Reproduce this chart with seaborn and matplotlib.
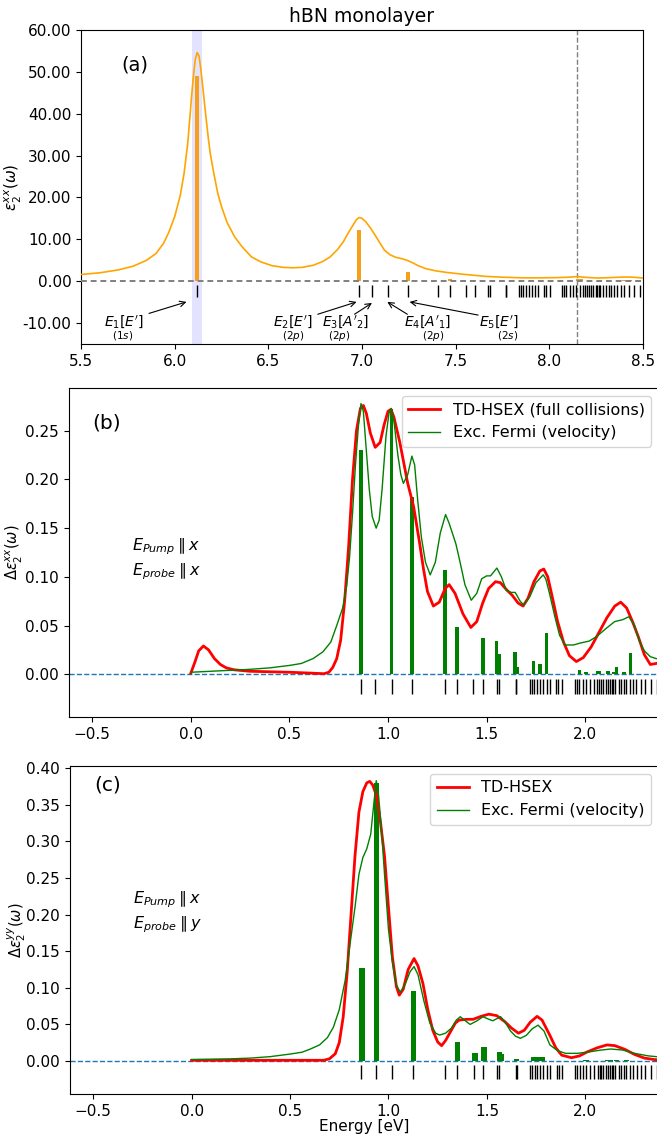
import numpy as np
import pandas as pd
import matplotlib
matplotlib.use("Agg")
import matplotlib.pyplot as plt
import seaborn as sns

# ---------------- data ----------------
# panel (a): absorption spectrum of hBN monolayer
a_energy = [5.50, 5.60, 5.70, 5.78, 5.85, 5.90, 5.94, 5.97, 6.00, 6.03, 6.05, 6.07, 6.08, 6.09,
            6.10, 6.11, 6.12, 6.13, 6.14, 6.15, 6.165, 6.18, 6.19, 6.21, 6.23, 6.25, 6.28, 6.32,
            6.36, 6.41, 6.46, 6.52, 6.58, 6.63, 6.68, 6.74, 6.79, 6.83, 6.87, 6.90, 6.93, 6.955,
            6.97, 6.985, 7.00, 7.02, 7.045, 7.07, 7.10, 7.12, 7.15, 7.18, 7.21, 7.24, 7.27, 7.30,
            7.34, 7.39, 7.45, 7.53, 7.60, 7.66, 7.75, 7.86, 7.95, 8.04, 8.10, 8.15, 8.20, 8.26,
            8.32, 8.40, 8.45, 8.50]
a_eps2 = [1.6, 2.0, 2.7, 3.6, 5.0, 6.6, 9.0, 11.8, 15.4, 20.5, 25.7, 33.0, 38.5, 44.0,
          49.0, 53.0, 54.6, 53.8, 50.5, 46.4, 40.0, 34.0, 30.5, 25.5, 21.0, 17.8, 14.0, 10.6,
          8.2, 5.8, 4.6, 3.7, 3.3, 3.2, 3.3, 3.8, 4.7, 5.8, 7.6, 9.4, 11.8, 13.6,
          14.7, 15.2, 15.0, 14.2, 12.7, 11.0, 8.8, 7.4, 6.3, 5.7, 5.4, 5.0, 4.4, 3.7,
          3.0, 2.5, 2.1, 1.7, 1.4, 1.15, 0.95, 0.8, 0.8, 0.85, 0.95, 1.1, 0.9, 0.75,
          0.85, 1.0, 0.95, 0.75]
a_bar_energy = [6.12, 6.985, 7.245, 7.47, 7.60, 8.15, 8.17, 8.40, 8.43]
a_bar_height = [49.0, 12.2, 2.1, 0.45, 0.2, 0.5, 0.5, 0.2, 0.25]
E1 = 6.12
fermi_level = 8.15

# exciton energies relative to E1 (eV)
exc_rel = [0.863, 0.935, 1.018, 1.123, 1.288, 1.350, 1.433, 1.482, 1.552, 1.563, 1.647, 1.651,
           1.719, 1.728, 1.742, 1.756, 1.771, 1.787, 1.806, 1.820, 1.854, 1.864, 1.883, 1.946,
           1.956, 1.971, 1.989, 2.004, 2.024, 2.043, 2.062, 2.072, 2.082, 2.092, 2.105, 2.115,
           2.127, 2.135, 2.143, 2.153, 2.169, 2.183, 2.198, 2.208, 2.227, 2.243, 2.260, 2.281,
           2.305, 2.334, 2.363]

labels_a = ["$E_1[E']$", "$E_2[E']$", "$E_3[A'_2]$", "$E_4[A'_1]$", "$E_5[E']$"]
sublabels_a = ["$(1s)$", "$(2p)$", "$(2p)$", "$(2p)$", "$(2s)$"]

# panel (b): xx
b_red_x = [0.00, 0.02, 0.04, 0.064, 0.09, 0.12, 0.15, 0.18, 0.22, 0.30, 0.40, 0.50, 0.60, 0.675,
           0.70, 0.72, 0.74, 0.76, 0.78, 0.80, 0.82, 0.84, 0.86, 0.875, 0.89, 0.91, 0.935, 0.96,
           0.98, 1.00, 1.015, 1.03, 1.06, 1.08, 1.10, 1.13, 1.16, 1.18, 1.20, 1.23, 1.26, 1.29,
           1.31, 1.34, 1.38, 1.42, 1.45, 1.48, 1.51, 1.545, 1.57, 1.60, 1.63, 1.66, 1.685, 1.71,
           1.74, 1.77, 1.79, 1.81, 1.83, 1.86, 1.89, 1.92, 1.955, 1.99, 2.03, 2.07, 2.11, 2.15,
           2.18, 2.21, 2.24, 2.27, 2.30, 2.33, 2.36, 2.40]
b_red_y = [0.001, 0.012, 0.024, 0.029, 0.025, 0.016, 0.010, 0.0065, 0.0045, 0.003, 0.0025, 0.002,
           0.0012, 0.0005, 0.002, 0.007, 0.016, 0.035, 0.075, 0.13, 0.20, 0.25, 0.273, 0.276,
           0.268, 0.248, 0.233, 0.238, 0.256, 0.270, 0.272, 0.264, 0.238, 0.217, 0.196, 0.172,
           0.135, 0.108, 0.085, 0.070, 0.074, 0.088, 0.092, 0.083, 0.062, 0.048, 0.054, 0.073,
           0.088, 0.095, 0.094, 0.087, 0.081, 0.073, 0.070, 0.078, 0.095, 0.106, 0.108, 0.100,
           0.082, 0.054, 0.033, 0.019, 0.013, 0.017, 0.028, 0.043, 0.058, 0.070, 0.074, 0.068,
           0.054, 0.038, 0.020, 0.010, 0.011, 0.014]
b_grn_x = [0.00, 0.10, 0.20, 0.30, 0.40, 0.50, 0.56, 0.62, 0.67, 0.71, 0.74, 0.77, 0.79, 0.805,
           0.82, 0.835, 0.85, 0.863, 0.875, 0.89, 0.905, 0.92, 0.94, 0.955, 0.97, 0.99, 1.005,
           1.016, 1.03, 1.05, 1.065, 1.078, 1.10, 1.121, 1.135, 1.15, 1.169, 1.19, 1.214, 1.24,
           1.265, 1.292, 1.31, 1.344, 1.36, 1.39, 1.422, 1.45, 1.475, 1.50, 1.52, 1.552, 1.575,
           1.60, 1.625, 1.645, 1.67, 1.688, 1.72, 1.75, 1.787, 1.80, 1.82, 1.845, 1.87, 1.897,
           1.94, 1.975, 2.02, 2.06, 2.10, 2.149, 2.19, 2.221, 2.25, 2.275, 2.30, 2.33, 2.36, 2.40]
b_grn_y = [0.002, 0.003, 0.004, 0.005, 0.0065, 0.009, 0.011, 0.016, 0.023, 0.033, 0.050, 0.068,
           0.090, 0.120, 0.165, 0.215, 0.255, 0.278, 0.270, 0.230, 0.190, 0.162, 0.150, 0.158,
           0.19, 0.245, 0.268, 0.273, 0.26, 0.225, 0.205, 0.196, 0.205, 0.224, 0.215, 0.18,
           0.141, 0.115, 0.102, 0.115, 0.145, 0.164, 0.155, 0.134, 0.12, 0.092, 0.076, 0.083,
           0.098, 0.101, 0.101, 0.109, 0.100, 0.086, 0.084, 0.084, 0.075, 0.071, 0.080, 0.094,
           0.102, 0.098, 0.082, 0.060, 0.040, 0.030, 0.030, 0.032, 0.034, 0.039, 0.046, 0.054,
           0.056, 0.059, 0.050, 0.034, 0.024, 0.018, 0.016, 0.016]
b_bar_x = [0.863, 1.018, 1.123, 1.290, 1.350, 1.482, 1.550, 1.563, 1.645, 1.655, 1.738, 1.771,
           1.804, 1.971, 2.004, 2.062, 2.072, 2.115, 2.145, 2.159, 2.198, 2.230]
b_bar_y = [0.230, 0.272, 0.182, 0.107, 0.0487, 0.037, 0.034, 0.0206, 0.023, 0.007, 0.0137,
           0.0103, 0.042, 0.004, 0.002, 0.003, 0.003, 0.003, 0.002, 0.0075, 0.002, 0.022]

# panel (c): yy
c_red_x = [0.00, 0.20, 0.40, 0.60, 0.67, 0.70, 0.73, 0.75, 0.77, 0.79, 0.81, 0.83, 0.85, 0.87,
           0.89, 0.905, 0.92, 0.94, 0.96, 0.98, 1.00, 1.02, 1.04, 1.055, 1.075, 1.10, 1.13,
           1.15, 1.175, 1.20, 1.225, 1.25, 1.27, 1.29, 1.315, 1.34, 1.36, 1.40, 1.43, 1.47,
           1.51, 1.55, 1.59, 1.625, 1.66, 1.69, 1.72, 1.755, 1.78, 1.82, 1.85, 1.88, 1.93,
           1.97, 2.01, 2.06, 2.11, 2.15, 2.20, 2.25, 2.30, 2.35, 2.40]
c_red_y = [0.001, 0.001, 0.001, 0.001, 0.001, 0.003, 0.010, 0.025, 0.060, 0.120, 0.200, 0.280,
           0.340, 0.368, 0.380, 0.382, 0.377, 0.362, 0.325, 0.28, 0.21, 0.142, 0.102, 0.090,
           0.098, 0.125, 0.140, 0.130, 0.106, 0.070, 0.042, 0.026, 0.021, 0.028, 0.040, 0.052,
           0.056, 0.057, 0.057, 0.061, 0.064, 0.062, 0.054, 0.045, 0.038, 0.042, 0.053, 0.061,
           0.056, 0.035, 0.018, 0.008, 0.0045, 0.007, 0.0125, 0.018, 0.022, 0.021, 0.016, 0.009,
           0.004, 0.002, 0.001]
c_grn_x = [0.00, 0.10, 0.20, 0.30, 0.40, 0.50, 0.56, 0.60, 0.65, 0.69, 0.72, 0.75, 0.78, 0.80,
           0.83, 0.85, 0.87, 0.89, 0.91, 0.925, 0.938, 0.95, 0.965, 0.98, 1.00, 1.02, 1.04,
           1.06, 1.085, 1.11, 1.13, 1.15, 1.18, 1.21, 1.24, 1.26, 1.29, 1.32, 1.345, 1.365,
           1.39, 1.415, 1.45, 1.48, 1.51, 1.53, 1.57, 1.595, 1.62, 1.645, 1.67, 1.70, 1.73,
           1.76, 1.79, 1.82, 1.86, 1.90, 1.96, 2.02, 2.08, 2.13, 2.19, 2.25, 2.32, 2.40]
c_grn_y = [0.002, 0.0025, 0.003, 0.004, 0.006, 0.0095, 0.012, 0.016, 0.022, 0.032, 0.046, 0.070,
           0.110, 0.150, 0.210, 0.255, 0.278, 0.290, 0.310, 0.350, 0.383, 0.362, 0.315, 0.255,
           0.18, 0.135, 0.104, 0.094, 0.105, 0.122, 0.129, 0.118, 0.082, 0.052, 0.038, 0.0355,
           0.038, 0.045, 0.056, 0.0605, 0.055, 0.050, 0.055, 0.0605, 0.057, 0.055, 0.0605,
           0.052, 0.041, 0.034, 0.031, 0.035, 0.044, 0.049, 0.041, 0.022, 0.014, 0.0105, 0.0105,
           0.0125, 0.015, 0.0164, 0.015, 0.0105, 0.007, 0.005]
c_bar_x = [0.865, 0.938, 1.127, 1.352, 1.440, 1.486, 1.564, 1.574, 1.651, 1.739, 1.754, 1.782,
           2.004, 2.115, 2.127, 2.16, 2.21]
c_bar_y = [0.1265, 0.380, 0.0955, 0.0255, 0.0105, 0.0186, 0.0127, 0.010, 0.003, 0.006, 0.005,
           0.005, 0.0014, 0.002, 0.002, 0.002, 0.002]

# ---------------- figure ----------------
fig = plt.figure(figsize=(6.57, 11.36), dpi=100)
ax_a = fig.add_axes([0.1233, 0.6972, 0.8554, 0.2764])
ax_b = fig.add_axes([0.1043, 0.3688, 0.8990, 0.2897])
ax_c = fig.add_axes([0.1058, 0.0370, 0.8975, 0.2887])

# ---- panel (a) ----
ax_a.axvspan(6.095, 6.145, color="blue", alpha=0.11, lw=0)
ax_a.bar(a_bar_energy, a_bar_height, width=0.02, color="#f5a01a", zorder=2)
sns.lineplot(x=a_energy, y=a_eps2, ax=ax_a, color="orange", lw=1.2, estimator=None, zorder=3)
ax_a.axhline(0, color="gray", ls=(0, (3, 2)), lw=1.4, zorder=4)
ax_a.axvline(fermi_level, color="gray", ls="--", lw=1.0)
ticks_a = [E1] + [E1 + e for e in exc_rel if E1 + e <= 8.5]
ax_a.vlines(ticks_a, -3.8, -1.0, color="k", lw=1.0)

label_x = [5.73, 6.63, 6.91, 7.353, 7.73]
sub_x = [5.72, 6.63, 6.88, 7.38, 7.776]
for lx, sx, lab, sub in zip(label_x, sub_x, labels_a, sublabels_a):
    ax_a.text(lx, -9.7, lab, ha="center", va="center", fontsize=10)
    ax_a.text(sx, -13.0, sub, ha="center", va="center", fontsize=7.5)
arrow_tail = [(5.863, -7.7), (6.764, -7.9), (6.96, -7.9), (7.242, -7.9), (7.62, -8.1)]
arrow_head = [(6.063, -4.95), (6.971, -4.95), (7.053, -5.2), (7.135, -4.95), (7.254, -4.95)]
for t, h in zip(arrow_tail, arrow_head):
    ax_a.annotate("", xy=h, xytext=t,
                  arrowprops=dict(arrowstyle="->", color="k", lw=0.8, shrinkA=0, shrinkB=0))
ax_a.text(5.79, 51.6, "(a)", fontsize=14, ha="center", va="center")
ax_a.set_xlim(5.5, 8.5)
ax_a.set_ylim(-15, 60)
ax_a.set_xticks([5.5, 6.0, 6.5, 7.0, 7.5, 8.0, 8.5])
ax_a.set_yticks(np.arange(-10, 61, 10))
ax_a.yaxis.set_major_formatter(matplotlib.ticker.FormatStrFormatter("%.2f"))
ax_a.set_ylabel(r"$\epsilon_2^{xx}(\omega)$", fontsize=11)
ax_a.yaxis.set_label_coords(-0.101, 0.5)
ax_a.set_title("hBN monolayer", fontsize=13.5)
ax_a.tick_params(labelsize=11)

# ---- panels (b), (c) ----
def pump_panel(ax, rx, ry, gx, gy, bx, by, bw, red_label, tag, tag_y, pol, pol_y, tick_lo, tick_hi,
               ylim, ylabel, ylab_x):
    ax.bar(bx, by, width=bw, color="green", zorder=2)
    sns.lineplot(x=rx, y=ry, ax=ax, color="red", lw=2.0, estimator=None, label=red_label, zorder=3)
    sns.lineplot(x=gx, y=gy, ax=ax, color="green", lw=1.0, estimator=None,
                 label="Exc. Fermi (velocity)", zorder=4)
    ax.axhline(0, color="tab:blue", ls="--", lw=1.0, zorder=1)
    ax.vlines(exc_rel, tick_lo, tick_hi, color="k", lw=1.0)
    ax.text(-0.425, tag_y, tag, fontsize=14.5, ha="center", va="center")
    ax.text(-0.30, pol_y[0], r"$E_{Pump} \parallel x$", fontsize=11.5, ha="left", va="center")
    ax.text(-0.30, pol_y[1], pol, fontsize=11.5, ha="left", va="center")
    ax.set_xlim(-0.62, 2.375)
    ax.set_ylim(*ylim)
    ax.set_xticks([-0.5, 0.0, 0.5, 1.0, 1.5, 2.0])
    ax.set_ylabel(ylabel, fontsize=10.5)
    ax.yaxis.set_label_coords(ylab_x, 0.5)
    ax.tick_params(labelsize=11)
    ax.legend(loc="upper right", fontsize=11.5)

pump_panel(ax_b, b_red_x, b_red_y, b_grn_x, b_grn_y, b_bar_x, b_bar_y, 0.019,
           "TD-HSEX (full collisions)", "(b)", 0.258, r"$E_{probe} \parallel x$", (0.131, 0.105),
           -0.020, -0.005, (-0.044, 0.294), r"$\Delta\epsilon_2^{xx}(\omega)$", -0.0737)
ax_b.set_yticks(np.arange(0, 0.26, 0.05))

pump_panel(ax_c, c_red_x, c_red_y, c_grn_x, c_grn_y, c_bar_x, c_bar_y, 0.027,
           "TD-HSEX", "(c)", 0.377, r"$E_{probe} \parallel y$", (0.220, 0.186),
           -0.025, -0.0055, (-0.045, 0.403), r"$\Delta\epsilon_2^{yy}(\omega)$", -0.0703)
ax_c.set_yticks(np.arange(0, 0.41, 0.05))
ax_c.set_xlabel("Energy [eV]", fontsize=11)
ax_c.xaxis.set_label_coords(0.5, -0.076)

fig.savefig("out.png", dpi=100)
